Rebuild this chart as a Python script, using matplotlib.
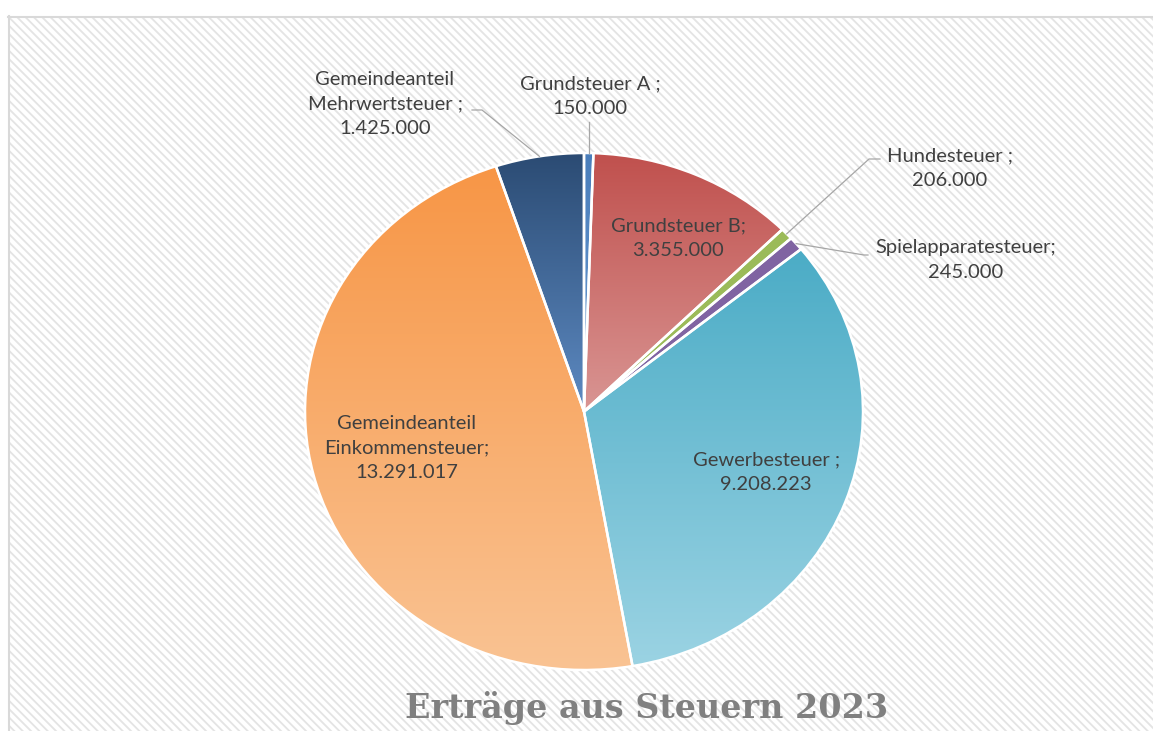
import numpy as np
import matplotlib
matplotlib.use("Agg")
import matplotlib.pyplot as plt
from matplotlib.patches import Rectangle
from matplotlib.colors import LinearSegmentedColormap

# Daten
labels = ["Grundsteuer A ;", "Grundsteuer B;", "Hundesteuer ;", "Spielapparatesteuer;",
          "Gewerbesteuer ;", "Gemeindeanteil\nEinkommensteuer;", "Gemeindeanteil\nMehrwertsteuer ;"]
values = [150000, 3355000, 206000, 245000, 9208223, 13291017, 1425000]
value_text = ["150.000", "3.355.000", "206.000", "245.000", "9.208.223", "13.291.017", "1.425.000"]

# Farben (oben, unten) fuer den Verlauf
top_cols = ["#4a7ebb", "#c0504d", "#9bbb59", "#8064a2", "#4bacc6", "#f79646", "#2b4b73"]
bot_cols = ["#6b9bd2", "#d99593", "#9bbb59", "#8064a2", "#9bd3e3", "#fac393", "#5d8ac2"]

W, H = 1153, 731
cx, cy, rx, ry = 584, 411.5, 279, 258.5

def d(px, py):
    return (px - cx) / rx, (cy - py) / ry

plt.rcParams['hatch.linewidth'] = 1.3
fig = plt.figure(figsize=(W / 100, H / 100), dpi=100)
fig.patch.set_facecolor("white")

# Hintergrund mit Schraffur
bg = fig.add_axes([0, 0, 1, 1])
bg.set_xlim(0, W)
bg.set_ylim(H, 0)
bg.axis("off")
bg.add_patch(Rectangle((8, 16), W, H, facecolor="white", edgecolor="#e4e4e4",
                       hatch="\\\\\\\\", linewidth=0))
bg.plot([9, 9], [16, H], color="#d9d9d9", lw=1.5)
bg.plot([8, W], [16.5, 16.5], color="#d9d9d9", lw=1.5)

ax = fig.add_axes([0, 0, 1, 1])
ax.patch.set_alpha(0)
x0, y0 = d(0, H)
x1, y1 = d(W, 0)
ax.axis("off")

wedges, _ = ax.pie(values, startangle=90, counterclock=False, radius=1,
                   wedgeprops=dict(edgecolor="white", linewidth=1.8, facecolor="none"))
ax.set_aspect("auto")

for w, c1, c2 in zip(wedges, top_cols, bot_cols):
    ext = w.get_path().get_extents()
    cmap = LinearSegmentedColormap.from_list("g", [c2, c1])
    grad = np.linspace(0, 1, 256).reshape(-1, 1)
    im = ax.imshow(grad, cmap=cmap, origin="lower", aspect="auto",
                   extent=[ext.x0, ext.x1, ext.y0, ext.y1], zorder=1)
    im.set_clip_path(w)
    w.set_zorder(2)

ax.set_xlim(x0, x1)
ax.set_ylim(y0, y1)

# Beschriftungen (Pixelpositionen)
label_pos = [(590, 96), (678, 238), (950, 168), (966, 260), (766, 472), (407, 448), (385, 104)]
txt_kw = dict(ha="center", va="center", fontsize=14.5, color="#404040",
              family=["Lato", "DejaVu Sans"], linespacing=1.55, zorder=5)
for lab, val, (px, py) in zip(labels, value_text, label_pos):
    tx, ty = d(px, py)
    ax.text(tx, ty, lab + "\n" + val, **txt_kw)

# Fuehrungslinien
def mid_point(w):
    a = np.deg2rad((w.theta1 + w.theta2) / 2)
    return np.cos(a), np.sin(a)

lead = {0: [(590, 122)], 2: [(869, 159), (880, 159)], 3: [(864, 255), (868, 255)],
        6: [(482, 110), (472, 110)]}
for i, pts in lead.items():
    mx, my = mid_point(wedges[i])
    xs = [mx] + [d(p[0], p[1])[0] for p in pts]
    ys = [my] + [d(p[0], p[1])[1] for p in pts]
    if i == 0:
        xs[1] = mx
    ax.plot(xs, ys, color="#a6a6a6", lw=0.9, zorder=3)

fig.text(646.5 / W, 1 - 708 / H, "Erträge aus Steuern 2023", ha="center", va="center",
         fontsize=24, fontweight="bold", family="DejaVu Serif", color="#808080")

fig.savefig("out.png", dpi=100)
